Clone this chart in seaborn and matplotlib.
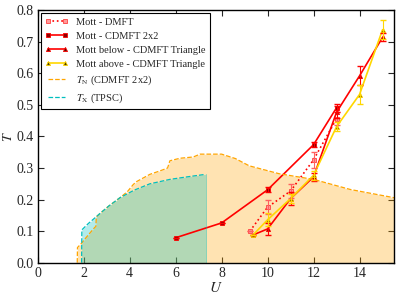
import numpy as np
import pandas as pd
import seaborn as sns
import matplotlib
matplotlib.use("Agg")
import matplotlib.pyplot as plt

# T_N (CDMFT 2x2) boundary
tn_u = [1.72, 1.73, 1.91, 2.2, 2.46, 2.53, 2.55, 2.71, 3.1, 3.58, 3.9, 4.16, 4.3, 4.88, 5.32,
        5.65, 5.75, 6.19, 6.77, 7.06, 7.5, 8.0, 8.6, 9.2, 10.5, 12.0, 13.6, 15.5]
tn_t = [0.0, 0.048, 0.062, 0.088, 0.11, 0.115, 0.145, 0.156, 0.18, 0.206, 0.225, 0.248, 0.257,
        0.28, 0.291, 0.30, 0.323, 0.331, 0.335, 0.344, 0.344, 0.344, 0.33, 0.307, 0.282, 0.264,
        0.232, 0.206]

# T_X (TPSC) boundary
tx_u = [1.91, 1.92, 2.2, 2.52, 2.71, 3.1, 3.58, 4.2, 4.88, 5.75, 6.5, 7.3, 7.31]
tx_t = [0.0, 0.104, 0.124, 0.144, 0.156, 0.18, 0.206, 0.23, 0.25, 0.264, 0.272, 0.28, 0.0]

# Mott lines
dmft_u = [9.23, 10, 11, 12, 13]
dmft_t = [0.10, 0.176, 0.227, 0.326, 0.456]
dmft_e = [0.0, 0.023, 0.022, 0.025, 0.02]

c2x2_u = [6, 8, 10, 12, 13]
c2x2_t = [0.079, 0.126, 0.231, 0.374, 0.491]
c2x2_e = [0.0, 0.0, 0.008, 0.008, 0.012]

below_u = [9.37, 10, 11, 12, 13, 14, 15]
below_t = [0.088, 0.107, 0.203, 0.272, 0.477, 0.592, 0.714]
below_e = [0.0, 0.02, 0.02, 0.012, 0.02, 0.03, 0.013]

above_u = [9.37, 10, 11, 12, 13, 14, 15]
above_t = [0.088, 0.136, 0.203, 0.277, 0.431, 0.533, 0.738]
above_e = [0.0, 0.02, 0.015, 0.015, 0.015, 0.03, 0.03]

sns.set_style("ticks")
plt.rcParams["font.family"] = ["Liberation Serif", "DejaVu Serif"]
plt.rcParams["mathtext.fontset"] = "stix"

fig = plt.figure(figsize=(3.99, 2.97), dpi=100)
ax = fig.add_axes([0.0945, 0.1155, 0.893, 0.85])

orange = "#ffa500"
cyan = "#00bfbf"

ax.fill_between(tn_u, tn_t, 0, color=orange, alpha=0.3, linewidth=0)
ax.fill_between(tx_u, tx_t, 0, color=cyan, alpha=0.3, linewidth=0)

# the Mott lines
ms = 3
sns.lineplot(x=dmft_u, y=dmft_t, ax=ax, color="red", linestyle=":", linewidth=1.2,
             marker="s", markersize=ms, markerfacecolor="#ff9a9a", markeredgecolor="#ff4040",
             markeredgewidth=0.6, label="Mott - DMFT", sort=False)
sns.lineplot(x=c2x2_u, y=c2x2_t, ax=ax, color="red", linewidth=1.2,
             marker="s", markersize=ms, markerfacecolor="#8b0000", markeredgecolor="red",
             markeredgewidth=0.6, label="Mott - CDMFT 2x2", sort=False)
sns.lineplot(x=below_u, y=below_t, ax=ax, color="red", linewidth=1.2,
             marker="^", markersize=ms, markerfacecolor="#4a1000", markeredgecolor="red",
             markeredgewidth=0.6, label="Mott below - CDMFT Triangle", sort=False)
sns.lineplot(x=above_u, y=above_t, ax=ax, color="#ffd700", linewidth=1.2,
             marker="^", markersize=ms, markerfacecolor="#4a3a00", markeredgecolor="#ffd700",
             markeredgewidth=0.6, label="Mott above - CDMFT Triangle", sort=False)

ax.errorbar(dmft_u, dmft_t, yerr=dmft_e, fmt="none", ecolor="#ff6060", elinewidth=0.8, capsize=2.5)
ax.errorbar(c2x2_u, c2x2_t, yerr=c2x2_e, fmt="none", ecolor="red", elinewidth=0.8, capsize=2.5)
ax.errorbar(below_u, below_t, yerr=below_e, fmt="none", ecolor="red", elinewidth=0.8, capsize=2.5)
ax.errorbar(above_u, above_t, yerr=above_e, fmt="none", ecolor="#ffd700", elinewidth=0.8, capsize=2.5)

# phase boundaries
sns.lineplot(x=tn_u, y=tn_t, ax=ax, color=orange, linestyle="--", linewidth=0.9,
             label=r"$T_{\rm N}$ (CDMFT 2x2)", sort=False)
sns.lineplot(x=tx_u[:-1], y=tx_t[:-1], ax=ax, color=cyan, linestyle="--", linewidth=0.9,
             label=r"$T_{\rm X}$ (TPSC)", sort=False)
ax.plot([tx_u[-2], tx_u[-2]], [0, tx_t[-2]], color=cyan, linewidth=0.6, alpha=0.5)

ax.set_xlim(0, 15.5)
ax.set_ylim(0, 0.8)
ax.set_xticks(np.arange(0, 15, 2))
yt = [0.0, 0.1, 0.2, 0.3, 0.4, 0.5, 0.6, 0.7, 0.8]
ax.set_yticks(yt)
ax.set_yticklabels([f"{v:.1f}" for v in yt])
ax.tick_params(direction="in", top=True, right=True, labelsize=10, length=4, width=0.8, pad=3)
for s in ax.spines.values():
    s.set_linewidth(1.0)
    s.set_color("black")
ax.set_xlabel(r"$U$", fontsize=11, labelpad=1)
ax.set_ylabel(r"$T$", fontsize=10)
ax.yaxis.set_label_coords(-0.064, 0.5)

leg = ax.legend(loc="upper left", fontsize=7.5, numpoints=2, fancybox=False, framealpha=1,
                edgecolor="black", borderaxespad=0.3, handlelength=2.2, labelspacing=0.45)
leg.get_frame().set_linewidth(0.8)

fig.savefig("out.png", dpi=100)
